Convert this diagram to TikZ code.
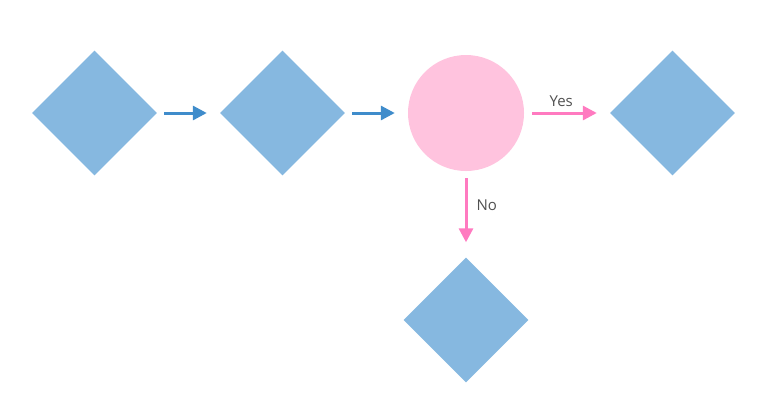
\documentclass[tikz,border=0pt]{standalone}
\usepackage{fontspec}
\setmainfont{Open Sans}
\usetikzlibrary{shapes.geometric,arrows.meta}
\definecolor{dblue}{HTML}{86B8E0}
\definecolor{ablue}{HTML}{3F8CCB}
\definecolor{cpink}{HTML}{FFC3DE}
\definecolor{apink}{HTML}{FF7AC0}
\definecolor{tgray}{HTML}{505050}
\tikzset{
  dia/.style={diamond,fill=dblue,draw=none,minimum width=125pt,minimum height=125pt,inner sep=0pt},
  circ/.style={circle,fill=cpink,draw=none,minimum size=116pt,inner sep=0pt},
  barrow/.style={draw=ablue,line width=3pt,-{Triangle[length=14pt,width=14pt]}},
  parrow/.style={draw=apink,line width=3pt,-{Triangle[length=14pt,width=14pt]}},
  lbl/.style={text=tgray,font=\fontsize{15}{17}\selectfont,inner sep=1pt}
}
\begin{document}
\begin{tikzpicture}[x=1pt,y=-1pt]
\useasboundingbox (0,0) rectangle (778,416);
\node[dia] (d1) at (94.5,113) {};
\node[dia] (d2) at (282.5,113) {};
\node[circ] (c) at (466,113) {};
\node[dia] (d4) at (672.5,113) {};
\node[dia] (d5) at (466,320) {};
\draw[barrow] ([xshift=7pt]d1.east) -- ([xshift=-13pt]d2.west);
\draw[barrow] ([xshift=7pt]d2.east) -- ([xshift=-13pt]c.west);
\draw[parrow] ([xshift=8pt]c.east) -- node[lbl,above=4pt,pos=0.45] {Yes} ([xshift=-13pt]d4.west);
\draw[parrow] ([yshift=-7pt]c.south) -- node[lbl,right=8pt,pos=0.42] {No} ([yshift=15pt]d5.north);
\end{tikzpicture}
\end{document}
